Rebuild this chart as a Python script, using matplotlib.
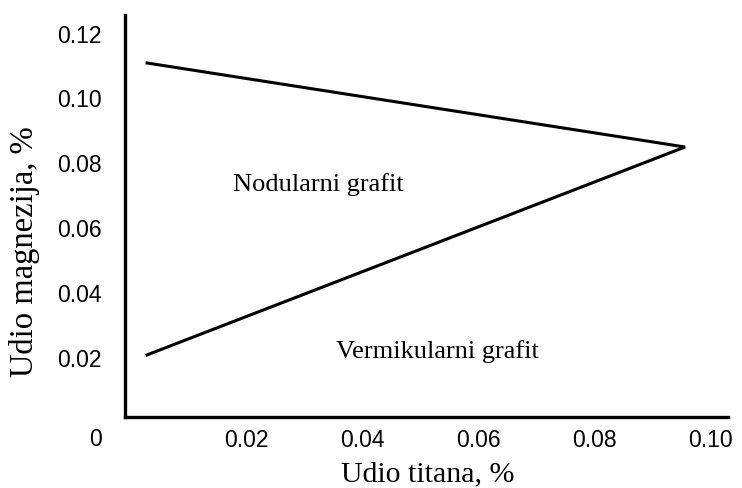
import matplotlib
matplotlib.use('Agg')
import matplotlib.pyplot as plt

# --- data ---
titan = [0.0029, 0.0956, 0.0029]        # Udio titana, %
magnezij = [0.1106, 0.0847, 0.0206]     # Udio magnezija, %
x_ticks = [0.02, 0.04, 0.06, 0.08, 0.10]
y_ticks = [0.02, 0.04, 0.06, 0.08, 0.10, 0.12]
region_labels = ["Nodularni grafit", "Vermikularni grafit"]
region_x = [0.0324, 0.0529]
region_y = [0.0733, 0.0218]

SERIF = ['Liberation Serif', 'DejaVu Serif']
SANS = ['Liberation Sans', 'DejaVu Sans']

W, H = 742, 489
fig = plt.figure(figsize=(W / 100, H / 100), dpi=100)
ax = fig.add_axes([125 / W, (H - 418) / H, (728 - 125) / W, (418 - 16) / H])

ax.plot(titan, magnezij, color='black', linewidth=2.2, solid_joinstyle='miter')

ax.set_xlim(-0.0009, 0.103)
ax.set_ylim(0.00145, 0.1254)

ax.set_xticks(x_ticks)
ax.set_xticklabels([f"{v:.2f}" for v in x_ticks], family=SANS, fontsize=16.5)
ax.set_yticks(y_ticks)
ax.set_yticklabels([f"{v:.2f}" for v in y_ticks], family=SANS, fontsize=16.5)
ax.tick_params(axis='both', length=0)
ax.tick_params(axis='x', pad=8)
ax.tick_params(axis='y', pad=17)

for side in ['top', 'right']:
    ax.spines[side].set_visible(False)
for side in ['left', 'bottom']:
    ax.spines[side].set_linewidth(2.4)

# shared origin label
ax.text(-0.006, -0.0052, "0", family=SANS, fontsize=16.5,
        ha='center', va='center', clip_on=False)

ax.set_xlabel("Udio titana, %", family=SERIF, fontsize=21.5, va='center')
ax.xaxis.set_label_coords(0.502, -0.14)
ax.set_ylabel("Udio magnezija, %", family=SERIF, fontsize=23.5, va='center')
ax.yaxis.set_label_coords(-0.166, 0.415)

for lab, x, y in zip(region_labels, region_x, region_y):
    ax.text(x, y, lab, family=SERIF, fontsize=19, ha='center', va='center')

fig.savefig("out.png", dpi=100)
